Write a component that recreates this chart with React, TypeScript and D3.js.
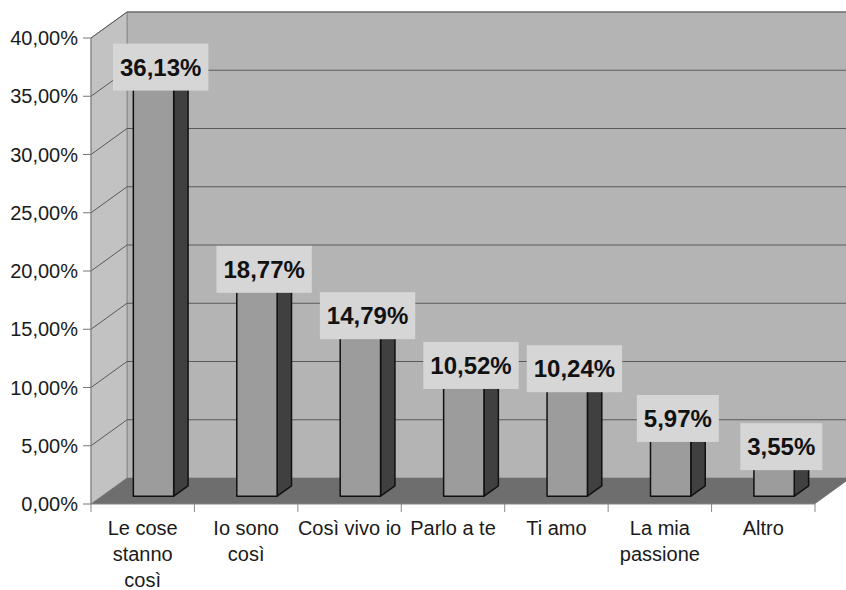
import React from "react";
import * as d3 from "d3";

const categories = [
  "Le cose\nstanno\ncosì",
  "Io sono\ncosì",
  "Così vivo io",
  "Parlo a te",
  "Ti amo",
  "La mia\npassione",
  "Altro",
];
const values = [36.13, 18.77, 14.79, 10.52, 10.24, 5.97, 3.55];
const yTicks = [0, 5, 10, 15, 20, 25, 30, 35, 40];

const W = 846;
const H = 590;
const left = 91;
const right = 815;
const yTop = 38;
const yBottom = 504;
const DX = 36;
const DY = -26;

const fmt = (v: number) => v.toFixed(2).replace(".", ",") + "%";

function boldWidth(s: string, size: number) {
  let w = 0;
  for (const c of s) {
    if (c === ",") w += 0.278;
    else if (c === "%") w += 0.889;
    else w += 0.556;
  }
  return w * size;
}

export default function App() {
  const x = d3.scaleBand<string>().domain(categories).range([left, right]).paddingInner(0).paddingOuter(0);
  const y = d3.scaleLinear().domain([0, 40]).range([yBottom, yTop]);
  const bw = x.bandwidth();
  const barW = bw * 0.39;
  const d0 = 0.3;
  const d1 = 0.7;
  const P = (px: number, v: number, d: number) => [px + d * DX, y(v) + d * DY];
  const poly = (pts: number[][]) => pts.map((p) => p.join(",")).join(" ");
  const font = "'Liberation Sans', Arial, sans-serif";

  const backX0 = left + DX;
  const backX1 = right + DX;

  return (
    <svg width={W} height={H} style={{ position: "absolute", left: 0, top: 0, background: "#fff" }} fontFamily={font}>
      {/* back wall */}
      <polygon points={poly([[backX0, yTop + DY], [backX1, yTop + DY], [backX1, yBottom + DY], [backX0, yBottom + DY]])} fill="#b4b4b4" stroke="#8a8a8a" strokeWidth={1} />
      {/* left wall */}
      <polygon points={poly([[left, yTop], [backX0, yTop + DY], [backX0, yBottom + DY], [left, yBottom]])} fill="#c2c2c2" stroke="#8a8a8a" strokeWidth={1} />
      {/* floor */}
      <polygon points={poly([[left, yBottom], [right, yBottom], [backX1, yBottom + DY], [backX0, yBottom + DY]])} fill="#6e6e6e" />
      {/* gridlines */}
      {yTicks.filter((t) => t > 0).map((t) => (
        <g key={t}>
          <line x1={left} y1={y(t)} x2={backX0} y2={y(t) + DY} stroke="#5a5a5a" strokeWidth={1} />
          <line x1={backX0} y1={y(t) + DY} x2={backX1} y2={y(t) + DY} stroke="#5a5a5a" strokeWidth={1} />
        </g>
      ))}
      {/* y axis */}
      <line x1={left} y1={yTop} x2={left} y2={yBottom} stroke="#888" strokeWidth={1} />
      {yTicks.map((t) => (
        <g key={t}>
          <line x1={left - 8} y1={y(t)} x2={left} y2={y(t)} stroke="#777" strokeWidth={1} />
          <text x={78} y={y(t) + 7} textAnchor="end" fontSize={20} fill="#1a1a1a">{fmt(t)}</text>
        </g>
      ))}
      {/* x axis */}
      <line x1={left} y1={yBottom} x2={right} y2={yBottom} stroke="#888" strokeWidth={1} />
      {[...categories.map((c) => x(c)!), right].map((px, i) => (
        <line key={i} x1={px} y1={yBottom} x2={px} y2={yBottom + 8} stroke="#888" strokeWidth={1} />
      ))}
      {categories.map((c) => (
        <text key={c} x={x(c)! + bw / 2} y={yBottom + 31} textAnchor="middle" fontSize={20} fill="#1a1a1a">
          {c.split("\n").map((ln, j) => (
            <tspan key={j} x={x(c)! + bw / 2} dy={j === 0 ? 0 : 26}>{ln}</tspan>
          ))}
        </text>
      ))}
      {/* bars */}
      {categories.map((c, i) => {
        const v = values[i];
        const x0 = x(c)! + (bw - barW) / 2;
        const x1 = x0 + barW;
        return (
          <g key={c} stroke="#111" strokeWidth={1.5} strokeLinejoin="round">
            <polygon points={poly([P(x0, v, d0), P(x1, v, d0), P(x1, v, d1), P(x0, v, d1)])} fill="#b8b8b8" />
            <polygon points={poly([P(x1, 0, d0), P(x1, 0, d1), P(x1, v, d1), P(x1, v, d0)])} fill="#404040" />
            <polygon points={poly([P(x0, 0, d0), P(x1, 0, d0), P(x1, v, d0), P(x0, v, d0)])} fill="#9c9c9c" />
          </g>
        );
      })}
      {/* value labels */}
      {categories.map((c, i) => {
        const v = values[i];
        const cx = x(c)! + bw / 2 + 0.5 * DX;
        const cy = y(v) + 0.5 * DY - 3;
        const label = fmt(v);
        const tw = boldWidth(label, 24);
        const bwid = tw + 14;
        const bh = 47;
        return (
          <g key={c}>
            <rect x={cx - bwid / 2} y={cy - bh / 2} width={bwid} height={bh} fill="#d6d6d6" />
            <text x={cx} y={cy + 8.5} textAnchor="middle" fontSize={24} fontWeight="bold" fill="#111">{label}</text>
          </g>
        );
      })}
    </svg>
  );
}
